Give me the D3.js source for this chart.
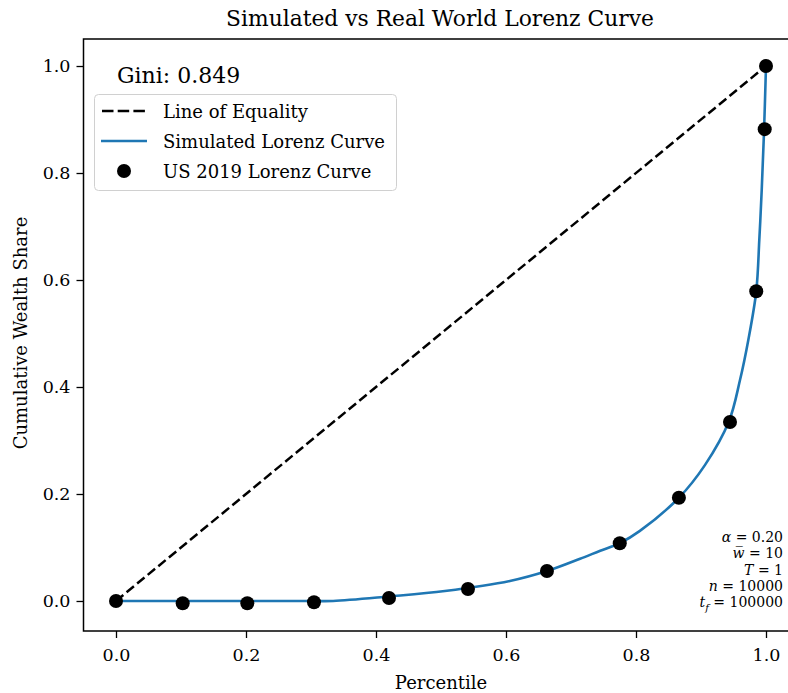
<!DOCTYPE html>
<html>
<head>
<meta charset="utf-8">
<script src="https://cdn.jsdelivr.net/npm/d3@7"></script>
<style>
  html, body { margin: 0; padding: 0; background: #fff; }
  svg { display: block; }
  text { font-family: "DejaVu Serif", "Liberation Serif", serif; fill: #000; }
</style>
</head>
<body>
<svg id="chart" width="788" height="693"></svg>
<script>
// Line of equality endpoints
const equalityX = [0, 1];
const equalityY = [0, 1];

// Simulated Lorenz curve (percentile, cumulative wealth share)
const simX = [0, 0.1, 0.2, 0.3, 0.334, 0.42, 0.506, 0.606, 0.663, 0.714, 0.745, 0.775, 0.806, 0.866, 0.906, 0.943, 0.960, 0.9728, 0.985, 0.9897, 0.9934, 0.997, 1.0];
const simY = [0, 0, 0, 0, 0, 0.0085, 0.0187, 0.0374, 0.056, 0.079, 0.094, 0.108, 0.131, 0.193, 0.254, 0.336, 0.413, 0.488, 0.579, 0.675, 0.768, 0.880, 1.0];

// US 2019 Lorenz curve points
const usX = [0, 0.1026, 0.202, 0.3046, 0.42, 0.5415, 0.663, 0.775, 0.866, 0.9446, 0.985, 0.998, 1.0];
const usY = [0, -0.0043, -0.0043, -0.0024, 0.0056, 0.0224, 0.056, 0.108, 0.193, 0.3346, 0.579, 0.882, 1.0];

// Axis ticks
const xTicks = [0.0, 0.2, 0.4, 0.6, 0.8, 1.0];
const yTicks = [0.0, 0.2, 0.4, 0.6, 0.8, 1.0];

const giniLabel = "Gini: 0.849";
const legendLabels = ["Line of Equality", "Simulated Lorenz Curve", "US 2019 Lorenz Curve"];

// Simulation parameters: symbol, optional subscript, value
const paramSymbols = ["α", "w\u0305", "T", "n", "t"];
const paramSubs = ["", "", "", "", "f"];
const paramValues = ["0.20", "10", "1", "10000", "100000"];

const blue = "#1f77b4";
const svg = d3.select("#chart");

// Plot area
const plotLeft = 83.5, plotRight = 798.5, plotTop = 39, plotBottom = 631;
const x = d3.scaleLinear().domain([-0.05, 1.05]).range([plotLeft, plotRight]);
const y = d3.scaleLinear().domain([-0.0561, 1.0505]).range([plotBottom, plotTop]);

const plot = svg.append("g");

// Line of equality
const eqData = equalityX.map((v, i) => [v, equalityY[i]]);
plot.append("path")
  .datum(eqData)
  .attr("d", d3.line().x(d => x(d[0])).y(d => y(d[1])))
  .attr("fill", "none")
  .attr("stroke", "#000")
  .attr("stroke-width", 2.5)
  .attr("stroke-dasharray", "9.5,4.2");

// Simulated curve
const simData = simX.map((v, i) => [v, simY[i]]);
plot.append("path")
  .datum(simData)
  .attr("d", d3.line().x(d => x(d[0])).y(d => y(d[1])).curve(d3.curveCatmullRom.alpha(0.5)))
  .attr("fill", "none")
  .attr("stroke", blue)
  .attr("stroke-width", 2.6);

// US 2019 points
plot.selectAll("circle.us")
  .data(usX.map((v, i) => [v, usY[i]]))
  .enter().append("circle")
  .attr("class", "us")
  .attr("cx", d => x(d[0]))
  .attr("cy", d => y(d[1]))
  .attr("r", 7)
  .attr("fill", "#000");

// Axes
const xAxis = d3.axisBottom(x).tickValues(xTicks).tickFormat(d3.format(".1f")).tickSize(7).tickPadding(11);
const yAxis = d3.axisLeft(y).tickValues(yTicks).tickFormat(d3.format(".1f")).tickSize(7).tickPadding(6);

const gx = svg.append("g").attr("transform", `translate(0,${plotBottom})`).call(xAxis);
const gy = svg.append("g").attr("transform", `translate(${plotLeft},0)`).call(yAxis);
[gx, gy].forEach(g => {
  g.attr("font-family", null).attr("font-size", null);
  g.select(".domain").remove();
  g.selectAll(".tick line").attr("stroke", "#000").attr("stroke-width", 1.3);
  g.selectAll(".tick text").style("font-size", "17.5px").attr("fill", "#000");
});

// Frame
svg.append("rect")
  .attr("x", plotLeft).attr("y", plotTop)
  .attr("width", plotRight - plotLeft).attr("height", plotBottom - plotTop)
  .attr("fill", "none").attr("stroke", "#000").attr("stroke-width", 1.5);

// Title and axis labels
svg.append("text")
  .attr("x", 440).attr("y", 26)
  .attr("text-anchor", "middle")
  .style("font-size", "21.8px")
  .text("Simulated vs Real World Lorenz Curve");

svg.append("text")
  .attr("x", 441).attr("y", 689)
  .attr("text-anchor", "middle")
  .style("font-size", "18px")
  .text("Percentile");

svg.append("text")
  .attr("transform", "translate(27,333) rotate(-90)")
  .attr("text-anchor", "middle")
  .style("font-size", "18px")
  .text("Cumulative Wealth Share");

// Gini annotation
svg.append("text")
  .attr("x", 117).attr("y", 83)
  .style("font-size", "22px")
  .text(giniLabel);

// Legend
const lg = svg.append("g");
lg.append("rect")
  .attr("x", 94.5).attr("y", 94.5).attr("width", 302).attr("height", 96)
  .attr("rx", 4).attr("ry", 4)
  .attr("fill", "#fff").attr("fill-opacity", 0.8)
  .attr("stroke", "#d0d0d0").attr("stroke-width", 1);

const rowY = [111, 141, 171];
lg.append("line")
  .attr("x1", 102).attr("x2", 146).attr("y1", rowY[0]).attr("y2", rowY[0])
  .attr("stroke", "#000").attr("stroke-width", 2.5).attr("stroke-dasharray", "11.5,4.2");
lg.append("line")
  .attr("x1", 101).attr("x2", 147).attr("y1", rowY[1]).attr("y2", rowY[1])
  .attr("stroke", blue).attr("stroke-width", 2.6);
lg.append("circle")
  .attr("cx", 124).attr("cy", rowY[2]).attr("r", 7).attr("fill", "#000");
lg.selectAll("text.lab")
  .data(legendLabels)
  .enter().append("text")
  .attr("class", "lab")
  .attr("x", 163)
  .attr("y", (d, i) => rowY[i] + 7)
  .style("font-size", "18px")
  .text(d => d);

// Parameter annotation, right-aligned in the lower-right corner
const paramY = [542, 558, 575, 591, 607];
paramSymbols.forEach((sym, i) => {
  const t = svg.append("text")
    .attr("x", 783).attr("y", paramY[i])
    .attr("text-anchor", "end")
    .style("font-size", "14px");
  t.append("tspan").style("font-style", "italic").text(sym);
  if (paramSubs[i]) {
    t.append("tspan").style("font-style", "italic").style("font-size", "10px").attr("dy", 3.5).text(paramSubs[i]);
    t.append("tspan").attr("dy", -3.5).text(" = " + paramValues[i]);
  } else {
    t.append("tspan").text(" = " + paramValues[i]);
  }
});
</script>
</body>
</html>
